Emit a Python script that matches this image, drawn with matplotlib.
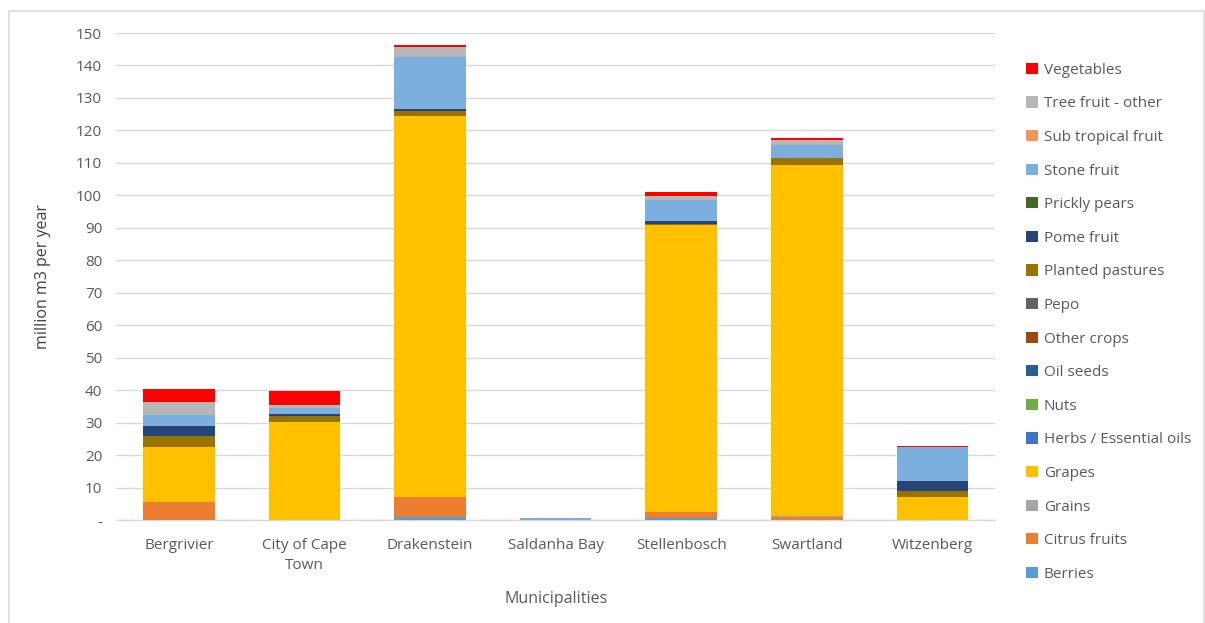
import matplotlib.pyplot as plt
from matplotlib.patches import Patch, Rectangle
import numpy as np

plt.rcParams['font.family'] = ['Open Sans', 'DejaVu Sans']

municipalities = ["Bergrivier", "City of Cape\nTown", "Drakenstein", "Saldanha Bay",
                  "Stellenbosch", "Swartland", "Witzenberg"]

# crop categories, bottom of the stack first
crops = ["Berries", "Citrus fruits", "Grains", "Grapes", "Herbs / Essential oils", "Nuts",
         "Oil seeds", "Other crops", "Pepo", "Planted pastures", "Pome fruit",
         "Prickly pears", "Stone fruit", "Sub tropical fruit", "Tree fruit - other",
         "Vegetables"]

colors = ["#5B9BD5", "#ED7D31", "#A5A5A5", "#FFC000", "#4472C4", "#70AD47",
          "#255E91", "#9E480E", "#636363", "#997300", "#264478", "#43682B",
          "#7CAFDD", "#F1975A", "#B7B7B7", "#FF0000"]

# million m3 per year, one value per municipality
berries = [0.0, 0.0, 0.9, 0.0, 0.5, 0.0, 0.0]
citrus = [5.5, 0.0, 6.2, 0.0, 2.0, 0.8, 0.0]
grains = [0.0, 0.0, 0.0, 0.0, 0.0, 0.5, 0.0]
grapes = [17.0, 30.1, 117.4, 0.0, 88.4, 108.0, 7.2]
herbs = [0.0, 0.0, 0.0, 0.0, 0.0, 0.0, 0.0]
nuts = [0.0, 0.0, 0.0, 0.0, 0.0, 0.0, 0.0]
oil_seeds = [0.0, 0.0, 0.0, 0.0, 0.0, 0.0, 0.0]
other_crops = [0.0, 0.0, 0.0, 0.0, 0.0, 0.0, 0.0]
pepo = [0.0, 0.0, 0.0, 0.0, 0.0, 0.0, 0.0]
planted_pastures = [3.4, 1.9, 1.5, 0.0, 0.4, 2.2, 1.6]
pome = [3.0, 0.8, 0.6, 0.0, 0.9, 0.0, 3.3]
prickly_pears = [0.0, 0.0, 0.0, 0.0, 0.0, 0.0, 0.0]
stone = [3.6, 1.7, 16.1, 0.5, 6.4, 3.9, 10.5]
sub_tropical = [0.0, 0.0, 0.0, 0.0, 0.0, 0.2, 0.0]
tree_other = [3.8, 1.0, 3.1, 0.0, 1.2, 1.4, 0.0]
vegetables = [4.0, 4.1, 0.6, 0.0, 1.1, 0.6, 0.3]

series = [berries, citrus, grains, grapes, herbs, nuts, oil_seeds, other_crops, pepo,
          planted_pastures, pome, prickly_pears, stone, sub_tropical, tree_other,
          vegetables]

fig = plt.figure(figsize=(12.05, 6.23), dpi=100)
ax = fig.add_axes([0.0963, 0.1653, 0.7297, 0.7817])

x = np.arange(len(municipalities))
bottom = np.zeros(len(municipalities))
for vals, col in zip(series, colors):
    v = np.array(vals)
    ax.bar(x, v, width=0.57, bottom=bottom, color=col, zorder=3, linewidth=0)
    bottom += v

ax.set_xlim(-0.5, len(municipalities) - 0.5)
ax.set_ylim(0, 150)
yt = np.arange(0, 151, 10)
ax.set_yticks(yt)
ax.set_yticklabels(["-"] + [str(v) for v in yt[1:]])
ax.set_xticks(x)
ax.set_xticklabels(municipalities, linespacing=1.45)

ax.grid(axis='y', color='#D9D9D9', linewidth=1, zorder=0)
for s in ['top', 'right', 'left']:
    ax.spines[s].set_visible(False)
ax.spines['bottom'].set_color('#D9D9D9')
ax.spines['bottom'].set_linewidth(1)
ax.tick_params(axis='both', length=0, labelsize=11, colors='#595959', pad=10)
ax.tick_params(axis='x', pad=13)

ax.set_ylabel("million m3 per year", fontsize=11.5, color='#404040', labelpad=18)
ax.set_xlabel("Municipalities", fontsize=11.5, color='#595959', labelpad=13)

handles = [Patch(facecolor=c, edgecolor='none', label=l)
           for c, l in zip(colors[::-1], crops[::-1])]
fig.legend(handles=handles, loc='upper left', bbox_to_anchor=(0.8465, 0.909),
           frameon=False, fontsize=11, labelcolor='#595959',
           handlelength=0.75, handleheight=0.75, handletextpad=0.4,
           labelspacing=1.217, borderaxespad=0)

# outer frame of the chart area
fig.patches.append(Rectangle((0.0075, -0.01), 0.9915, 0.992, transform=fig.transFigure,
                             fill=False, edgecolor='#D9D9D9', linewidth=1.2))

fig.savefig("out.png", dpi=100)
